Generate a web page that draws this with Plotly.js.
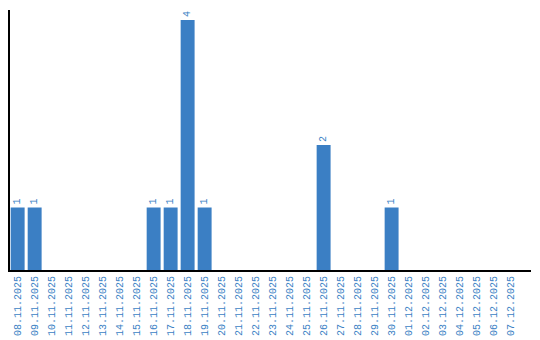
<!DOCTYPE html>
<html><head><meta charset="utf-8">
<script src="https://cdn.plot.ly/plotly-3.0.1.min.js"></script>
<style>html,body{margin:0;padding:0;background:#fff}</style>
</head><body>
<div id="chart" style="width:540px;height:340px"></div>
<script>
const dates = ["08.11.2025","09.11.2025","10.11.2025","11.11.2025","12.11.2025","13.11.2025","14.11.2025","15.11.2025","16.11.2025","17.11.2025","18.11.2025","19.11.2025","20.11.2025","21.11.2025","22.11.2025","23.11.2025","24.11.2025","25.11.2025","26.11.2025","27.11.2025","28.11.2025","29.11.2025","30.11.2025","01.12.2025","02.12.2025","03.12.2025","04.12.2025","05.12.2025","06.12.2025","07.12.2025"];
const counts = [1,1,0,0,0,0,0,0,1,1,4,1,0,0,0,0,0,0,2,0,0,0,1,0,0,0,0,0,0,0];
const labels = counts.map(v => v > 0 ? String(v) : "");
const blue = "#3b7fc4";
Plotly.newPlot("chart", [{
  type: "bar",
  x: dates,
  y: counts,
  text: labels,
  textposition: "outside",
  textangle: -90,
  cliponaxis: false,
  textfont: {family: "Liberation Mono, monospace", size: 10, color: blue},
  marker: {color: blue},
  hoverinfo: "none"
}], {
  width: 540, height: 340,
  margin: {l: 10, r: 9, t: 10, b: 70},
  paper_bgcolor: "#fff", plot_bgcolor: "#fff",
  bargap: 0.18,
  showlegend: false,
  xaxis: {
    type: "category",
    range: [-0.45, 30.2],
    tickangle: -90,
    tickfont: {family: "Liberation Mono, monospace", size: 10, color: blue},
    showline: true, linecolor: "#000", linewidth: 2,
    ticks: "", showgrid: false, zeroline: false, fixedrange: true
  },
  yaxis: {
    range: [0, 4.16],
    showticklabels: false,
    showline: true, linecolor: "#000", linewidth: 2,
    ticks: "", showgrid: false, zeroline: false, fixedrange: true
  }
}, {displayModeBar: false, staticPlot: true});
</script>
</body></html>
